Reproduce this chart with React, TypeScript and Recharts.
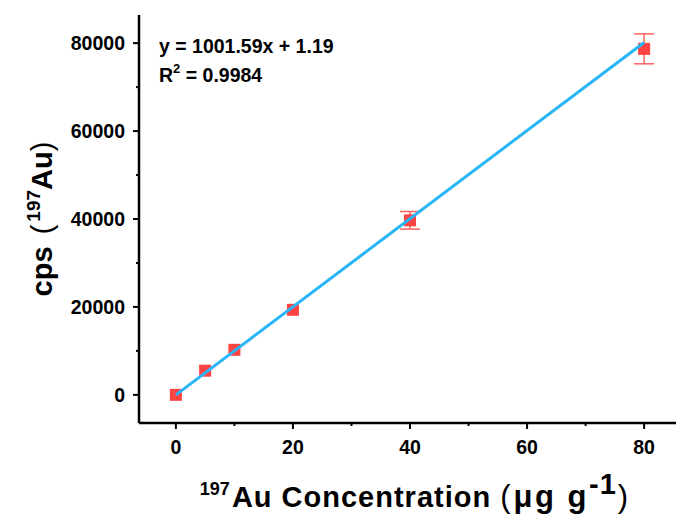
import { ScatterChart, Scatter, XAxis, YAxis, ErrorBar, Label } from "recharts"

// Calibration points
const concentrations = [0, 5, 10, 20, 40, 80]
const cpsValues = [0, 5500, 10250, 19350, 39700, 78700]
// only the two highest standards have error bars larger than the marker
const cpsErrors = [null, null, null, null, 2000, 3400]

// Linear fit end points (y = 1001.59x + 1.19)
const fitX = [0, 80]
const fitY = [1.19, 80128.39]

const xMajorTicks = [0, 20, 40, 60, 80]
const xMinorTicks = [10, 30, 50, 70]
const yMajorTicks = [0, 20000, 40000, 60000, 80000]
const yMinorTicks = [10000, 30000, 50000, 70000]

const FONT = "'Liberation Sans', Arial, sans-serif"
const MARKER = "#ff4242"
const ERR = "#ff6060"
const FIT = "#29b6f6"

const points = concentrations.map((c, i) => ({ x: c, y: cpsValues[i], err: cpsErrors[i] }))
const fitLine = fitX.map((x, i) => ({ x, y: fitY[i] }))

const xTicks = [...xMajorTicks, ...xMinorTicks].sort((a, b) => a - b)
const yTicks = [...yMajorTicks, ...yMinorTicks].sort((a, b) => a - b)

const XTick = ({ x, y, payload }: any) => {
    const major = xMajorTicks.includes(payload.value)
    return (
        <g>
            <line x1={x} x2={x} y1={y} y2={y + (major ? 6 : 3)} stroke="#000" strokeWidth={2} />
            {major && (
                <text x={x} y={y + 31} textAnchor="middle" fontFamily={FONT} fontWeight="bold" fontSize={19.5} fill="#000">
                    {payload.value}
                </text>
            )}
        </g>
    )
}

const YTick = ({ x, y, payload }: any) => {
    const major = yMajorTicks.includes(payload.value)
    return (
        <g>
            <line x1={x - (major ? 6 : 3)} x2={x} y1={y} y2={y} stroke="#000" strokeWidth={2} />
            {major && (
                <text x={x - 14} y={y + 7} textAnchor="end" fontFamily={FONT} fontWeight="bold" fontSize={19.5} fill="#000">
                    {payload.value}
                </text>
            )}
        </g>
    )
}

const XTitle = ({ viewBox }: any) => {
    const cx = viewBox.x + viewBox.width / 2 + 4
    const base = viewBox.y + 84
    return (
        <text x={cx} y={base} textAnchor="middle" fontFamily={FONT} fontWeight="bold" fontSize={29} fill="#000">
            <tspan fontSize={18} dy={-12}>197</tspan>
            <tspan dy={12} dx={2} letterSpacing={1}>Au Concentration </tspan>
            <tspan fontWeight="normal" fontSize={31} letterSpacing={3}>(</tspan>
            <tspan fontSize={31} letterSpacing={2.5}>μg g</tspan>
            <tspan fontSize={29} dy={-13} letterSpacing={1}>-1</tspan>
            <tspan dy={13} dx={1} fontSize={31} fontWeight="normal">)</tspan>
        </text>
    )
}

const YTitle = () => {
    const bx = 52
    const cy = 219
    return (
        <text x={bx} y={cy} transform={`rotate(-90, ${bx}, ${cy})`} textAnchor="middle" fontFamily={FONT} fontWeight="bold" fontSize={29} fill="#000">
            <tspan>cps </tspan>
            <tspan fontWeight="normal" dx={4}>(</tspan>
            <tspan fontSize={19} dy={-12} dx={3}>197</tspan>
            <tspan dy={12}>Au</tspan>
            <tspan fontWeight="normal">)</tspan>
        </text>
    )
}

const Square = ({ cx, cy }: any) => (
    <rect x={cx - 6} y={cy - 6} width={12} height={12} fill={MARKER} />
)

export default function App() {
    return (
        <div style={{ position: "absolute", left: 0, top: 0, width: 676, height: 521, overflow: "hidden", background: "#fff" }}>
            <ScatterChart width={690} height={521} margin={{ top: 15, right: 9, bottom: 0, left: 0 }}>
                <XAxis
                    type="number"
                    dataKey="x"
                    domain={[-6.3, 86.3]}
                    ticks={xTicks}
                    tick={<XTick />}
                    tickLine={false}
                    tickSize={0}
                    tickMargin={0}
                    height={98}
                    interval={0}
                    axisLine={{ stroke: "#000", strokeWidth: 2.5 }}
                >
                    <Label content={<XTitle />} />
                </XAxis>
                <YAxis
                    type="number"
                    dataKey="y"
                    domain={[-6400, 86400]}
                    ticks={yTicks}
                    tick={<YTick />}
                    tickLine={false}
                    tickSize={0}
                    tickMargin={0}
                    width={139}
                    interval={0}
                    axisLine={{ stroke: "#000", strokeWidth: 2.5 }}
                >
                    <Label content={<YTitle />} />
                </YAxis>
                <XAxis
                    xAxisId="top"
                    orientation="top"
                    type="number"
                    domain={[-6.3, 86.3]}
                    tick={false}
                    tickLine={false}
                    height={0}
                    axisLine={{ stroke: "#000", strokeWidth: 2.5 }}
                />
                <YAxis
                    yAxisId="right"
                    orientation="right"
                    type="number"
                    domain={[-6400, 86400]}
                    tick={false}
                    tickLine={false}
                    width={0}
                    axisLine={{ stroke: "#000", strokeWidth: 2.5 }}
                />
                <Scatter data={points} shape={<Square />} isAnimationActive={false}>
                    <ErrorBar dataKey="err" direction="y" width={10} stroke={ERR} strokeWidth={1.5} isAnimationActive={false} />
                </Scatter>
                <Scatter
                    data={fitLine}
                    line={{ stroke: FIT, strokeWidth: 3 }}
                    lineType="joint"
                    shape={() => <g />}
                    isAnimationActive={false}
                />
            </ScatterChart>
            <svg width={676} height={521} style={{ position: "absolute", left: 0, top: 0, pointerEvents: "none" }}>
                <text x={159} y={53} fontFamily={FONT} fontWeight="bold" fontSize={19.5} fill="#000">
                    y = 1001.59x + 1.19
                </text>
                <text x={159} y={82} fontFamily={FONT} fontWeight="bold" fontSize={19.5} fill="#000">
                    <tspan>R</tspan>
                    <tspan fontSize={13} dy={-9}>2</tspan>
                    <tspan dy={9}> = 0.9984</tspan>
                </text>
            </svg>
        </div>
    )
}
